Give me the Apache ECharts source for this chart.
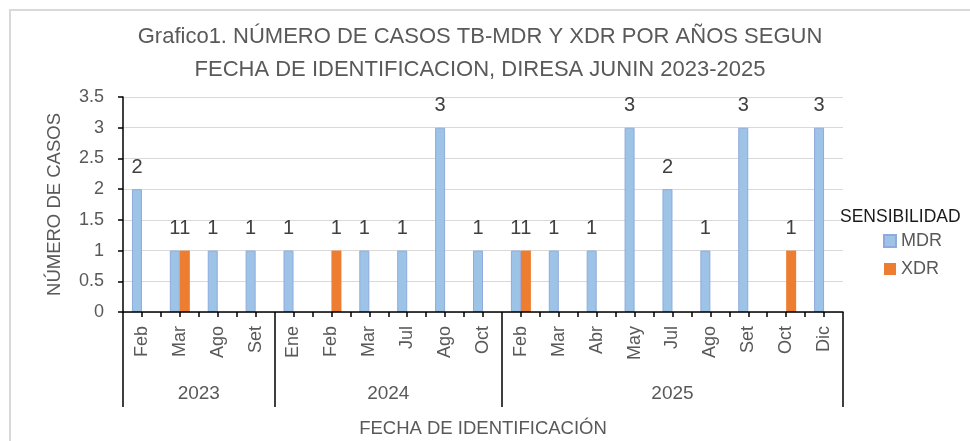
<!DOCTYPE html>
<html>
<head>
<meta charset="utf-8">
<title>Casos TB-MDR y XDR</title>
<script src="https://cdn.jsdelivr.net/npm/echarts@6/dist/echarts.min.js"></script>
<style>
  html, body { margin: 0; padding: 0; background: #fff; }
  #frame { position: absolute; left: 9px; top: 9px; width: 1000px; height: 500px; border: 2px solid #d9d9d9; }
  #chart { position: absolute; left: 0; top: 0; width: 970px; height: 441px; }
</style>
</head>
<body>
<div id="frame"></div>
<div id="chart"></div>
<script>
// meses identificados, agrupados por año
const months = ["Feb", "Mar", "Ago", "Set",
  "Ene", "Feb", "Mar", "Jul", "Ago", "Oct",
  "Feb", "Mar", "Abr", "May", "Jul", "Ago", "Set", "Oct", "Dic"];
const years = ["2023", "2024", "2025"];
const monthsPerYear = [4, 6, 9];

const mdr = [2, 1, 1, 1,
  1, null, 1, 1, 3, 1,
  1, 1, 1, 3, 2, 1, 3, null, 3];
const xdr = [null, 1, null, null,
  null, 1, null, null, null, null,
  1, null, null, null, null, null, null, 1, null];

const FONT = "'Liberation Sans', Arial, sans-serif";
const GREY = "#595959";

// límites y centros de cada año sobre el eje
const yearEdges = [0];
monthsPerYear.forEach((n) => yearEdges.push(yearEdges[yearEdges.length - 1] + n));
const yearCenters = years.map((y, i) => (yearEdges[i] + yearEdges[i + 1]) / 2);
const total = months.length;

const chart = echarts.init(document.getElementById("chart"));

chart.setOption({
  animation: false,
  textStyle: { fontFamily: FONT },
  title: [
    {
      text: "Grafico1. NÚMERO DE CASOS TB-MDR Y XDR POR AÑOS SEGUN\nFECHA DE IDENTIFICACION, DIRESA JUNIN 2023-2025",
      left: 475,
      top: 15,
      textAlign: "center",
      textStyle: { fontSize: 22, lineHeight: 33, fontWeight: "normal", color: GREY, fontFamily: FONT },
    },
    {
      text: "SENSIBILIDAD",
      left: 835,
      top: 203,
      textStyle: { fontSize: 17.5, fontWeight: "normal", color: "#1a1a1a", fontFamily: FONT },
    },
  ],
  legend: {
    orient: "vertical",
    left: 878,
    top: 227,
    itemWidth: 12,
    itemHeight: 12,
    itemGap: 10,
    icon: "rect",
    textStyle: { fontSize: 18, color: GREY, fontFamily: FONT },
    data: ["MDR", "XDR"],
  },
  grid: { left: 123, right: 127, top: 97, bottom: 129 },
  xAxis: [
    {
      type: "category",
      data: months,
      axisLine: { lineStyle: { color: "#000", width: 1.5 } },
      axisTick: { show: false },
      axisLabel: { interval: 0, rotate: 90, margin: 14, fontSize: 18, color: GREY },
      z: 5,
    },
    {
      type: "value",
      min: 0,
      max: total,
      interval: 0.5,
      position: "bottom",
      axisLine: { show: false },
      axisTick: { show: true, length: 5, lineStyle: { color: "#000", width: 1.5 } },
      axisLabel: { show: false },
      splitLine: { show: false },
    },
    {
      type: "value",
      min: 0,
      max: total,
      position: "bottom",
      name: "FECHA DE IDENTIFICACIÓN",
      nameLocation: "middle",
      nameGap: 107,
      nameTextStyle: { fontSize: 18.5, color: GREY },
      axisLine: { show: false },
      axisTick: { show: true, length: 95, customValues: yearEdges, lineStyle: { color: "#000", width: 1.5 } },
      axisLabel: {
        customValues: yearCenters,
        margin: 72,
        fontSize: 19,
        color: GREY,
        formatter: (v) => years[yearCenters.indexOf(v)] || "",
      },
      splitLine: { show: false },
    },
  ],
  yAxis: {
    type: "value",
    min: 0,
    max: 3.5,
    interval: 0.5,
    name: "NÚMERO DE CASOS",
    nameLocation: "middle",
    nameGap: 59,
    nameTextStyle: { fontSize: 18.5, color: GREY },
    axisLine: { show: true, lineStyle: { color: "#000", width: 1.5 } },
    axisTick: { show: true, length: 5, lineStyle: { color: "#000", width: 1.5 } },
    axisLabel: { fontSize: 18, color: GREY, margin: 19 },
    splitLine: { lineStyle: { color: "#d9d9d9", width: 1 } },
  },
  series: [
    {
      name: "MDR",
      type: "bar",
      data: mdr,
      barWidth: 10,
      barGap: "0%",
      itemStyle: { color: "#9dc3e6", borderColor: "#8faadc", borderWidth: 1 },
      label: { show: true, position: "top", distance: 12, fontSize: 20, color: "#404040" },
    },
    {
      name: "XDR",
      type: "bar",
      data: xdr,
      barWidth: 10,
      barGap: "0%",
      itemStyle: { color: "#ed7d31" },
      label: { show: true, position: "top", distance: 12, fontSize: 20, color: "#404040" },
    },
  ],
});
</script>
</body>
</html>
